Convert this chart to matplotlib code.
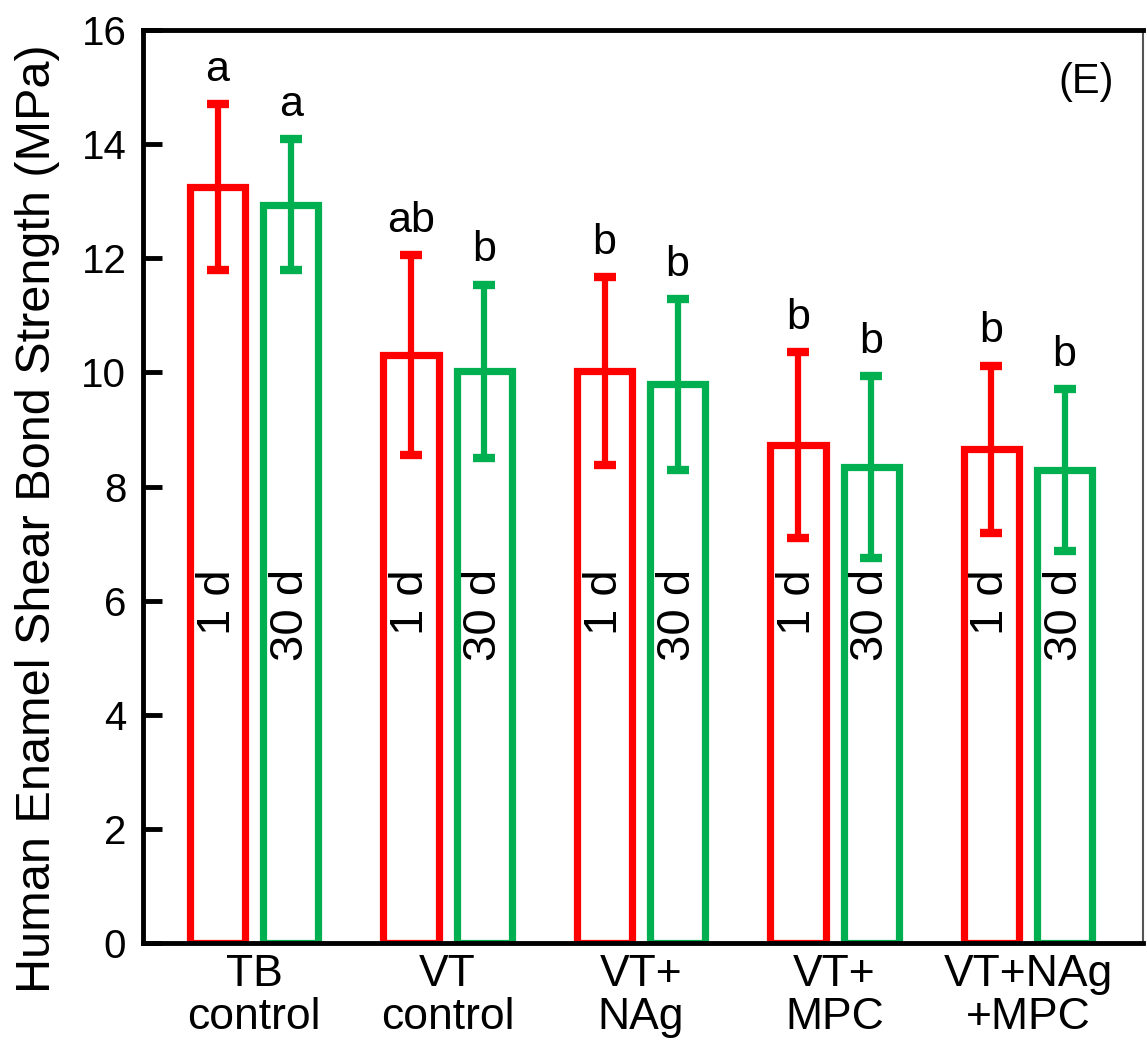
import numpy as np
import matplotlib
matplotlib.use('Agg')
from matplotlib import pyplot as plt

plt.rcParams['font.family'] = ['Liberation Sans', 'DejaVu Sans']

groups = ['TB\ncontrol', 'VT\ncontrol', 'VT+\nNAg', 'VT+\nMPC', 'VT+NAg\n+MPC']
mean_1d = [13.25, 10.30, 10.02, 8.72, 8.65]
err_1d = [1.45, 1.75, 1.65, 1.63, 1.47]
mean_30d = [12.94, 10.02, 9.79, 8.34, 8.29]
err_30d = [1.15, 1.52, 1.50, 1.60, 1.42]
letters_1d = ['a', 'ab', 'b', 'b', 'b']
letters_30d = ['a', 'b', 'b', 'b', 'b']

red = '#FF0000'
green = '#00B050'

fig = plt.figure(figsize=(11.47, 10.49), dpi=100)
ax = fig.add_axes([0.1247, 0.101, 0.8718, 0.8704])

x = np.arange(len(groups))
off = 0.189
w = 0.285

ax.bar(x - off, mean_1d, w, facecolor='white', edgecolor=red, linewidth=5.2, zorder=2)
ax.bar(x + off, mean_30d, w, facecolor='white', edgecolor=green, linewidth=5.2, zorder=2)

for xs, m, e, c in [(x - off, mean_1d, err_1d, red), (x + off, mean_30d, err_30d, green)]:
    eb = ax.errorbar(xs, m, yerr=e, fmt='none', ecolor=c, elinewidth=4.5,
                     capsize=8, capthick=6, zorder=3)
    for cap in eb[1]:
        cap.set_solid_capstyle('round')

for i in range(len(groups)):
    ax.text(x[i] - off, mean_1d[i] + err_1d[i] + 0.25, letters_1d[i],
            ha='center', va='bottom', fontsize=31)
    ax.text(x[i] + off, mean_30d[i] + err_30d[i] + 0.25, letters_30d[i],
            ha='center', va='bottom', fontsize=31)
    ax.text(x[i] - off, 6.55, '1 d', rotation=90, ha='center', va='top', fontsize=34)
    ax.text(x[i] + off, 6.55, '30 d', rotation=90, ha='center', va='top', fontsize=34)

ax.text(0.971, 0.943, '(E)', transform=ax.transAxes, ha='right', va='center', fontsize=30)

ax.set_xlim(-0.574, 4.594)
ax.set_ylim(0, 16)
ax.set_yticks(np.arange(0, 17, 2))
ax.set_xticks(x)
ax.set_xticklabels(groups, fontsize=32, linespacing=1.05)
ax.tick_params(axis='x', length=0, pad=8)
ax.tick_params(axis='y', direction='in', length=14, width=3.5, labelsize=29, pad=12)
ax.set_ylabel('Human Enamel Shear Bond Strength (MPa)', fontsize=35)
ax.yaxis.set_label_coords(-0.083, 0.465)

for s in ['left', 'bottom', 'top']:
    ax.spines[s].set_linewidth(3.5)
    ax.spines[s].set_zorder(4)
ax.spines['right'].set_linewidth(1.5)
ax.spines['right'].set_color('#555555')

fig.savefig('out.png', dpi=100)
